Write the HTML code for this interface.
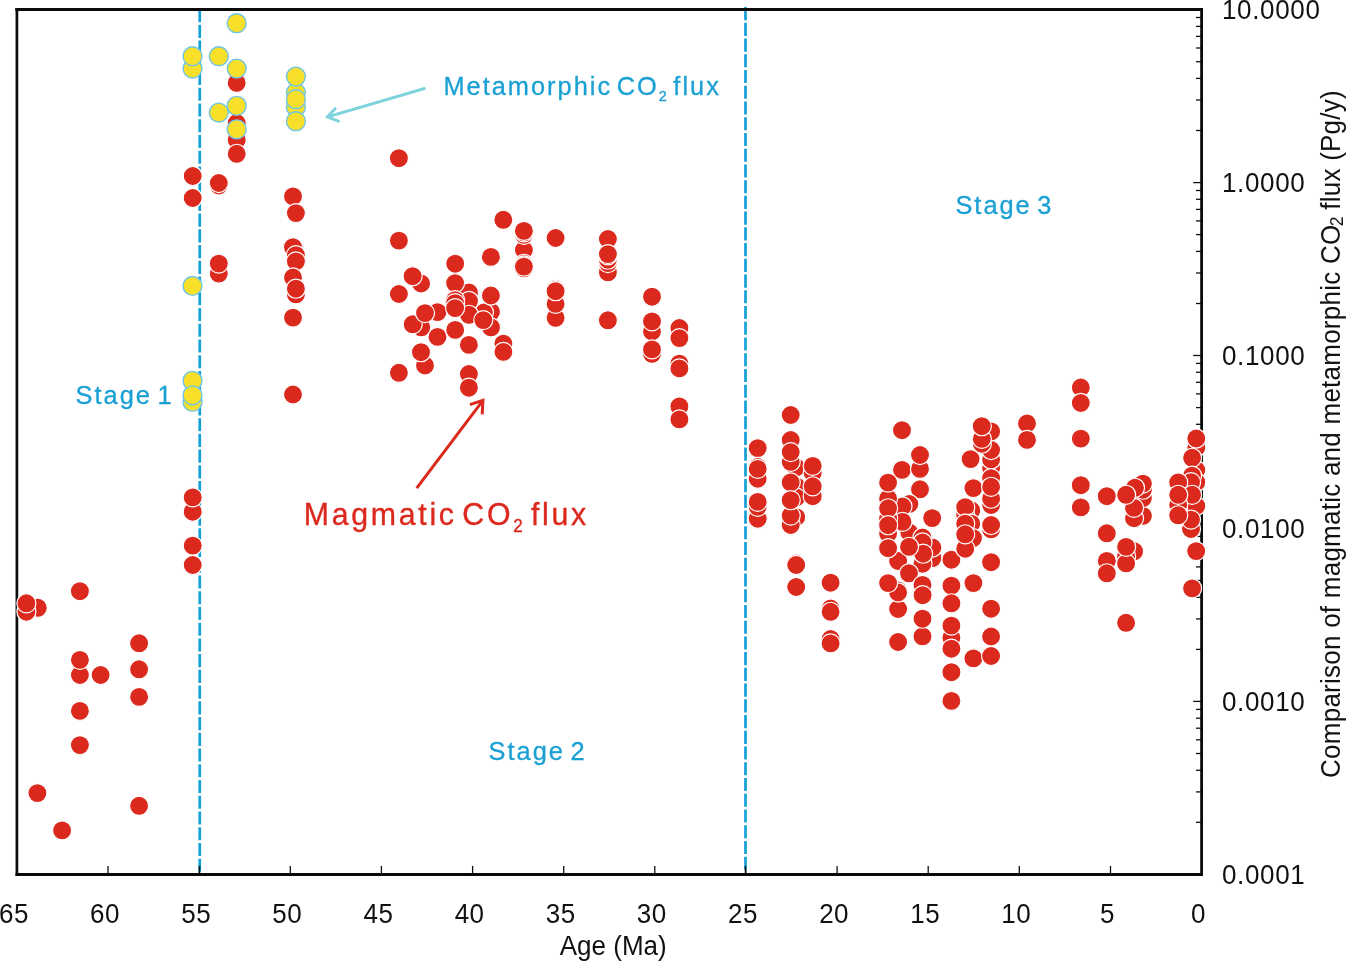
<!DOCTYPE html>
<html lang="en"><head><meta charset="utf-8"><title>CO2 flux</title>
<style>
html,body{margin:0;padding:0;background:#fff;}
body{width:1346px;height:961px;overflow:hidden;}
svg{display:block;}
text{font-family:"Liberation Sans",sans-serif;}
</style></head><body>
<svg width="1346" height="961" viewBox="0 0 1346 961">
<rect x="0" y="0" width="1346" height="961" fill="#fff"/>
<g style="will-change:opacity">
<g stroke="#111" stroke-width="1.3" fill="none">
<line x1="1110.5" y1="865.9" x2="1110.5" y2="874.4"/>
<line x1="1019.3" y1="865.9" x2="1019.3" y2="874.4"/>
<line x1="928.2" y1="865.9" x2="928.2" y2="874.4"/>
<line x1="837.1" y1="865.9" x2="837.1" y2="874.4"/>
<line x1="745.9" y1="865.9" x2="745.9" y2="874.4"/>
<line x1="654.8" y1="865.9" x2="654.8" y2="874.4"/>
<line x1="563.7" y1="865.9" x2="563.7" y2="874.4"/>
<line x1="472.6" y1="865.9" x2="472.6" y2="874.4"/>
<line x1="381.4" y1="865.9" x2="381.4" y2="874.4"/>
<line x1="290.3" y1="865.9" x2="290.3" y2="874.4"/>
<line x1="199.2" y1="865.9" x2="199.2" y2="874.4"/>
<line x1="108.0" y1="865.9" x2="108.0" y2="874.4"/>
<line x1="1193.2" y1="9.6" x2="1201.6" y2="9.6"/>
<line x1="1196.0" y1="130.5" x2="1201.6" y2="130.5"/>
<line x1="1196.0" y1="100.0" x2="1201.6" y2="100.0"/>
<line x1="1196.0" y1="78.4" x2="1201.6" y2="78.4"/>
<line x1="1196.0" y1="61.7" x2="1201.6" y2="61.7"/>
<line x1="1196.0" y1="48.0" x2="1201.6" y2="48.0"/>
<line x1="1196.0" y1="36.4" x2="1201.6" y2="36.4"/>
<line x1="1196.0" y1="26.4" x2="1201.6" y2="26.4"/>
<line x1="1196.0" y1="17.5" x2="1201.6" y2="17.5"/>
<line x1="1193.2" y1="182.6" x2="1201.6" y2="182.6"/>
<line x1="1196.0" y1="303.5" x2="1201.6" y2="303.5"/>
<line x1="1196.0" y1="273.0" x2="1201.6" y2="273.0"/>
<line x1="1196.0" y1="251.4" x2="1201.6" y2="251.4"/>
<line x1="1196.0" y1="234.6" x2="1201.6" y2="234.6"/>
<line x1="1196.0" y1="220.9" x2="1201.6" y2="220.9"/>
<line x1="1196.0" y1="209.4" x2="1201.6" y2="209.4"/>
<line x1="1196.0" y1="199.3" x2="1201.6" y2="199.3"/>
<line x1="1196.0" y1="190.5" x2="1201.6" y2="190.5"/>
<line x1="1193.2" y1="355.5" x2="1201.6" y2="355.5"/>
<line x1="1196.0" y1="476.4" x2="1201.6" y2="476.4"/>
<line x1="1196.0" y1="446.0" x2="1201.6" y2="446.0"/>
<line x1="1196.0" y1="424.3" x2="1201.6" y2="424.3"/>
<line x1="1196.0" y1="407.6" x2="1201.6" y2="407.6"/>
<line x1="1196.0" y1="393.9" x2="1201.6" y2="393.9"/>
<line x1="1196.0" y1="382.3" x2="1201.6" y2="382.3"/>
<line x1="1196.0" y1="372.3" x2="1201.6" y2="372.3"/>
<line x1="1196.0" y1="363.4" x2="1201.6" y2="363.4"/>
<line x1="1193.2" y1="528.5" x2="1201.6" y2="528.5"/>
<line x1="1196.0" y1="649.4" x2="1201.6" y2="649.4"/>
<line x1="1196.0" y1="618.9" x2="1201.6" y2="618.9"/>
<line x1="1196.0" y1="597.3" x2="1201.6" y2="597.3"/>
<line x1="1196.0" y1="580.5" x2="1201.6" y2="580.5"/>
<line x1="1196.0" y1="566.9" x2="1201.6" y2="566.9"/>
<line x1="1196.0" y1="555.3" x2="1201.6" y2="555.3"/>
<line x1="1196.0" y1="545.2" x2="1201.6" y2="545.2"/>
<line x1="1196.0" y1="536.4" x2="1201.6" y2="536.4"/>
<line x1="1193.2" y1="701.4" x2="1201.6" y2="701.4"/>
<line x1="1196.0" y1="822.3" x2="1201.6" y2="822.3"/>
<line x1="1196.0" y1="791.9" x2="1201.6" y2="791.9"/>
<line x1="1196.0" y1="770.3" x2="1201.6" y2="770.3"/>
<line x1="1196.0" y1="753.5" x2="1201.6" y2="753.5"/>
<line x1="1196.0" y1="739.8" x2="1201.6" y2="739.8"/>
<line x1="1196.0" y1="728.2" x2="1201.6" y2="728.2"/>
<line x1="1196.0" y1="718.2" x2="1201.6" y2="718.2"/>
<line x1="1196.0" y1="709.4" x2="1201.6" y2="709.4"/>
<line x1="1193.2" y1="874.4" x2="1201.6" y2="874.4"/>
</g>
<g stroke="#0a0a0a" fill="none">
<line x1="15.55" y1="9.5" x2="1203.00" y2="9.5" stroke-width="2.9"/>
<line x1="15.55" y1="874.4" x2="1203.00" y2="874.4" stroke-width="3.0"/>
<line x1="16.9" y1="8.05" x2="16.9" y2="875.9" stroke-width="2.7"/>
<line x1="1201.6" y1="8.05" x2="1201.6" y2="875.9" stroke-width="2.8"/>
</g>
<line x1="199.75" y1="9.07" x2="199.75" y2="872.6" stroke="#14A0D6" stroke-width="2.7" stroke-dasharray="13.1 2.633"/>
<line x1="745.5" y1="7.07" x2="745.5" y2="870.0" stroke="#14A0D6" stroke-width="2.7" stroke-dasharray="13.1 2.633"/>
<line x1="15.55" y1="9.5" x2="1203.00" y2="9.5" stroke="#0a0a0a" stroke-width="2.9"/>
<g stroke="#111" stroke-width="1.3"><line x1="199.6" y1="865.9" x2="199.6" y2="874.4"/><line x1="745.4" y1="865.9" x2="745.4" y2="874.4"/></g>
<g stroke="#7FD3DC" stroke-width="2.9" fill="none" stroke-linecap="butt"><path d="M425.4 88.25 L327.6 116.9"/><path d="M336.0 107.8 L327.4 116.95 L339.5 121.6"/></g>
<g stroke="#DC291E" stroke-width="3.0" fill="none"><path d="M416.7 488.2 L482.6 400.8"/><path d="M469.9 404.7 L482.9 400.4 L482.2 414.3"/></g>
<g fill="#DC291E" stroke="#fff" stroke-width="1.2">
<circle cx="37.8" cy="607.8" r="9.55"/><circle cx="26.4" cy="611.7" r="9.55"/><circle cx="26.4" cy="603.3" r="9.55"/><circle cx="79.9" cy="591.2" r="9.55"/><circle cx="79.9" cy="675.0" r="9.55"/><circle cx="79.9" cy="659.9" r="9.55"/><circle cx="100.6" cy="675.0" r="9.55"/><circle cx="79.9" cy="710.9" r="9.55"/><circle cx="79.9" cy="745.1" r="9.55"/><circle cx="139.1" cy="643.3" r="9.55"/><circle cx="139.1" cy="669.3" r="9.55"/><circle cx="139.1" cy="696.9" r="9.55"/><circle cx="37.4" cy="793.1" r="9.55"/><circle cx="139.1" cy="805.8" r="9.55"/><circle cx="62.1" cy="830.4" r="9.55"/><circle cx="192.7" cy="565.0" r="9.55"/><circle cx="192.7" cy="545.6" r="9.55"/><circle cx="192.7" cy="511.7" r="9.55"/><circle cx="192.7" cy="497.4" r="9.55"/><circle cx="192.7" cy="176.0" r="9.55"/><circle cx="192.7" cy="198.0" r="9.55"/><circle cx="218.8" cy="185.5" r="9.55"/><circle cx="218.8" cy="183.0" r="9.55"/><circle cx="218.8" cy="273.6" r="9.55"/><circle cx="218.8" cy="263.6" r="9.55"/><circle cx="236.7" cy="82.9" r="9.55"/><circle cx="236.7" cy="123.0" r="9.55"/><circle cx="236.7" cy="140.0" r="9.55"/><circle cx="236.7" cy="153.8" r="9.55"/><circle cx="293.0" cy="196.4" r="9.55"/><circle cx="295.9" cy="213.1" r="9.55"/><circle cx="293.0" cy="247.2" r="9.55"/><circle cx="295.9" cy="255.2" r="9.55"/><circle cx="295.9" cy="261.4" r="9.55"/><circle cx="293.0" cy="277.5" r="9.55"/><circle cx="295.9" cy="294.4" r="9.55"/><circle cx="295.9" cy="288.7" r="9.55"/><circle cx="293.0" cy="317.6" r="9.55"/><circle cx="293.0" cy="394.5" r="9.55"/><circle cx="398.9" cy="158.2" r="9.55"/><circle cx="398.9" cy="240.6" r="9.55"/><circle cx="398.9" cy="294.0" r="9.55"/><circle cx="398.9" cy="372.8" r="9.55"/><circle cx="421.1" cy="283.5" r="9.55"/><circle cx="412.6" cy="276.2" r="9.55"/><circle cx="421.2" cy="327.4" r="9.55"/><circle cx="412.7" cy="324.3" r="9.55"/><circle cx="437.5" cy="312.1" r="9.55"/><circle cx="425.0" cy="313.1" r="9.55"/><circle cx="437.5" cy="336.9" r="9.55"/><circle cx="425.0" cy="365.5" r="9.55"/><circle cx="421.0" cy="352.2" r="9.55"/><circle cx="455.2" cy="263.7" r="9.55"/><circle cx="491.0" cy="311.8" r="9.55"/><circle cx="483.9" cy="312.5" r="9.55"/><circle cx="469.0" cy="292.5" r="9.55"/><circle cx="455.1" cy="283.1" r="9.55"/><circle cx="469.0" cy="301.0" r="9.55"/><circle cx="455.1" cy="300.1" r="9.55"/><circle cx="455.1" cy="303.2" r="9.55"/><circle cx="469.0" cy="314.8" r="9.55"/><circle cx="455.1" cy="308.1" r="9.55"/><circle cx="455.2" cy="329.9" r="9.55"/><circle cx="468.9" cy="344.9" r="9.55"/><circle cx="468.9" cy="374.0" r="9.55"/><circle cx="468.9" cy="387.7" r="9.55"/><circle cx="490.9" cy="256.9" r="9.55"/><circle cx="490.9" cy="295.5" r="9.55"/><circle cx="491.0" cy="327.4" r="9.55"/><circle cx="483.3" cy="320.1" r="9.55"/><circle cx="503.3" cy="219.8" r="9.55"/><circle cx="503.4" cy="343.7" r="9.55"/><circle cx="503.4" cy="351.9" r="9.55"/><circle cx="523.9" cy="250.0" r="9.55"/><circle cx="523.9" cy="234.8" r="9.55"/><circle cx="523.9" cy="232.3" r="9.55"/><circle cx="523.9" cy="230.9" r="9.55"/><circle cx="523.9" cy="263.8" r="9.55"/><circle cx="523.9" cy="265.4" r="9.55"/><circle cx="523.9" cy="268.3" r="9.55"/><circle cx="523.9" cy="266.6" r="9.55"/><circle cx="555.6" cy="238.0" r="9.55"/><circle cx="555.6" cy="317.8" r="9.55"/><circle cx="555.6" cy="303.9" r="9.55"/><circle cx="555.6" cy="288.7" r="9.55"/><circle cx="555.6" cy="290.0" r="9.55"/><circle cx="555.6" cy="291.2" r="9.55"/><circle cx="607.9" cy="239.0" r="9.55"/><circle cx="607.9" cy="272.3" r="9.55"/><circle cx="607.9" cy="263.1" r="9.55"/><circle cx="607.9" cy="259.7" r="9.55"/><circle cx="607.9" cy="255.4" r="9.55"/><circle cx="607.9" cy="254.1" r="9.55"/><circle cx="607.9" cy="320.3" r="9.55"/><circle cx="652.0" cy="296.7" r="9.55"/><circle cx="652.0" cy="331.5" r="9.55"/><circle cx="652.0" cy="321.4" r="9.55"/><circle cx="652.0" cy="353.8" r="9.55"/><circle cx="652.0" cy="349.4" r="9.55"/><circle cx="679.4" cy="328.0" r="9.55"/><circle cx="679.4" cy="338.1" r="9.55"/><circle cx="679.4" cy="363.6" r="9.55"/><circle cx="679.4" cy="368.4" r="9.55"/><circle cx="679.4" cy="406.4" r="9.55"/><circle cx="679.4" cy="419.4" r="9.55"/><circle cx="757.7" cy="448.1" r="9.55"/><circle cx="757.7" cy="478.7" r="9.55"/><circle cx="757.7" cy="467.0" r="9.55"/><circle cx="757.7" cy="468.9" r="9.55"/><circle cx="757.7" cy="518.7" r="9.55"/><circle cx="757.7" cy="506.8" r="9.55"/><circle cx="757.7" cy="501.9" r="9.55"/><circle cx="790.7" cy="415.0" r="9.55"/><circle cx="790.7" cy="440.0" r="9.55"/><circle cx="796.2" cy="467.4" r="9.55"/><circle cx="790.7" cy="461.8" r="9.55"/><circle cx="790.7" cy="452.1" r="9.55"/><circle cx="796.2" cy="486.2" r="9.55"/><circle cx="796.2" cy="497.4" r="9.55"/><circle cx="796.2" cy="517.2" r="9.55"/><circle cx="790.7" cy="525.0" r="9.55"/><circle cx="790.7" cy="515.6" r="9.55"/><circle cx="790.7" cy="482.4" r="9.55"/><circle cx="790.7" cy="500.2" r="9.55"/><circle cx="812.7" cy="473.1" r="9.55"/><circle cx="812.7" cy="465.9" r="9.55"/><circle cx="812.7" cy="496.2" r="9.55"/><circle cx="812.7" cy="486.3" r="9.55"/><circle cx="796.2" cy="563.5" r="9.55"/><circle cx="796.2" cy="565.0" r="9.55"/><circle cx="796.2" cy="587.0" r="9.55"/><circle cx="830.6" cy="582.7" r="9.55"/><circle cx="830.6" cy="608.5" r="9.55"/><circle cx="830.6" cy="611.8" r="9.55"/><circle cx="830.6" cy="639.0" r="9.55"/><circle cx="830.6" cy="643.4" r="9.55"/><circle cx="902.0" cy="430.2" r="9.55"/><circle cx="902.0" cy="469.9" r="9.55"/><circle cx="920.0" cy="468.9" r="9.55"/><circle cx="920.0" cy="455.0" r="9.55"/><circle cx="920.0" cy="489.3" r="9.55"/><circle cx="932.2" cy="518.1" r="9.55"/><circle cx="909.3" cy="504.0" r="9.55"/><circle cx="902.5" cy="506.5" r="9.55"/><circle cx="909.3" cy="532.5" r="9.55"/><circle cx="902.5" cy="521.9" r="9.55"/><circle cx="932.4" cy="558.1" r="9.55"/><circle cx="932.4" cy="547.5" r="9.55"/><circle cx="922.5" cy="563.7" r="9.55"/><circle cx="922.5" cy="537.5" r="9.55"/><circle cx="922.5" cy="542.5" r="9.55"/><circle cx="923.1" cy="553.7" r="9.55"/><circle cx="898.1" cy="561.0" r="9.55"/><circle cx="909.0" cy="546.8" r="9.55"/><circle cx="909.0" cy="573.3" r="9.55"/><circle cx="898.1" cy="609.0" r="9.55"/><circle cx="898.1" cy="590.5" r="9.55"/><circle cx="898.1" cy="592.5" r="9.55"/><circle cx="898.1" cy="642.0" r="9.55"/><circle cx="922.5" cy="584.9" r="9.55"/><circle cx="922.6" cy="595.2" r="9.55"/><circle cx="922.5" cy="636.4" r="9.55"/><circle cx="922.5" cy="618.7" r="9.55"/><circle cx="888.1" cy="498.5" r="9.55"/><circle cx="888.1" cy="518.7" r="9.55"/><circle cx="888.1" cy="533.5" r="9.55"/><circle cx="888.1" cy="482.6" r="9.55"/><circle cx="888.1" cy="508.3" r="9.55"/><circle cx="888.1" cy="525.2" r="9.55"/><circle cx="888.1" cy="548.2" r="9.55"/><circle cx="888.1" cy="583.1" r="9.55"/><circle cx="951.4" cy="559.7" r="9.55"/><circle cx="951.4" cy="585.6" r="9.55"/><circle cx="951.4" cy="603.3" r="9.55"/><circle cx="951.4" cy="637.7" r="9.55"/><circle cx="951.4" cy="625.6" r="9.55"/><circle cx="951.4" cy="648.7" r="9.55"/><circle cx="951.4" cy="672.2" r="9.55"/><circle cx="951.4" cy="700.9" r="9.55"/><circle cx="971.2" cy="510.3" r="9.55"/><circle cx="965.2" cy="515.0" r="9.55"/><circle cx="965.2" cy="507.2" r="9.55"/><circle cx="971.2" cy="523.7" r="9.55"/><circle cx="965.2" cy="523.7" r="9.55"/><circle cx="973.0" cy="538.1" r="9.55"/><circle cx="965.2" cy="548.7" r="9.55"/><circle cx="965.2" cy="534.3" r="9.55"/><circle cx="970.6" cy="459.1" r="9.55"/><circle cx="973.4" cy="488.1" r="9.55"/><circle cx="973.4" cy="583.1" r="9.55"/><circle cx="973.4" cy="658.4" r="9.55"/><circle cx="991.1" cy="431.4" r="9.55"/><circle cx="991.1" cy="467.9" r="9.55"/><circle cx="991.1" cy="459.5" r="9.55"/><circle cx="991.1" cy="450.0" r="9.55"/><circle cx="991.1" cy="478.1" r="9.55"/><circle cx="991.1" cy="505.0" r="9.55"/><circle cx="991.1" cy="498.7" r="9.55"/><circle cx="991.1" cy="486.8" r="9.55"/><circle cx="991.1" cy="529.3" r="9.55"/><circle cx="991.1" cy="525.0" r="9.55"/><circle cx="991.1" cy="562.2" r="9.55"/><circle cx="991.1" cy="608.7" r="9.55"/><circle cx="991.1" cy="636.5" r="9.55"/><circle cx="991.1" cy="656.0" r="9.55"/><circle cx="981.8" cy="443.7" r="9.55"/><circle cx="981.8" cy="438.9" r="9.55"/><circle cx="981.8" cy="426.2" r="9.55"/><circle cx="1027.0" cy="423.5" r="9.55"/><circle cx="1027.0" cy="439.9" r="9.55"/><circle cx="1080.8" cy="387.5" r="9.55"/><circle cx="1080.8" cy="403.0" r="9.55"/><circle cx="1080.8" cy="438.6" r="9.55"/><circle cx="1080.8" cy="485.2" r="9.55"/><circle cx="1080.8" cy="507.4" r="9.55"/><circle cx="1106.8" cy="496.2" r="9.55"/><circle cx="1106.8" cy="533.3" r="9.55"/><circle cx="1106.8" cy="560.9" r="9.55"/><circle cx="1106.8" cy="573.3" r="9.55"/><circle cx="1142.9" cy="515.9" r="9.55"/><circle cx="1134.0" cy="518.2" r="9.55"/><circle cx="1142.9" cy="498.1" r="9.55"/><circle cx="1134.0" cy="507.9" r="9.55"/><circle cx="1142.9" cy="489.7" r="9.55"/><circle cx="1142.9" cy="483.6" r="9.55"/><circle cx="1135.0" cy="487.8" r="9.55"/><circle cx="1126.1" cy="494.8" r="9.55"/><circle cx="1134.1" cy="551.3" r="9.55"/><circle cx="1126.1" cy="556.3" r="9.55"/><circle cx="1126.1" cy="563.4" r="9.55"/><circle cx="1126.1" cy="546.9" r="9.55"/><circle cx="1126.1" cy="622.8" r="9.55"/><circle cx="1196.3" cy="447.5" r="9.55"/><circle cx="1196.3" cy="438.5" r="9.55"/><circle cx="1196.3" cy="470.0" r="9.55"/><circle cx="1192.1" cy="457.8" r="9.55"/><circle cx="1196.3" cy="482.2" r="9.55"/><circle cx="1192.1" cy="475.6" r="9.55"/><circle cx="1191.0" cy="482.2" r="9.55"/><circle cx="1178.2" cy="482.4" r="9.55"/><circle cx="1196.3" cy="506.0" r="9.55"/><circle cx="1192.1" cy="494.8" r="9.55"/><circle cx="1178.2" cy="504.7" r="9.55"/><circle cx="1178.2" cy="494.8" r="9.55"/><circle cx="1191.0" cy="529.0" r="9.55"/><circle cx="1191.0" cy="519.6" r="9.55"/><circle cx="1178.2" cy="515.3" r="9.55"/><circle cx="1196.2" cy="551.1" r="9.55"/><circle cx="1192.1" cy="588.4" r="9.55"/>
</g>
<g fill="#F8DF2A" stroke="#6EC6E6" stroke-width="1.4">
<circle cx="192.5" cy="68.6" r="9.45"/><circle cx="192.5" cy="56.2" r="9.45"/><circle cx="218.8" cy="56.2" r="9.45"/><circle cx="236.7" cy="23.2" r="9.45"/><circle cx="236.7" cy="68.6" r="9.45"/><circle cx="218.8" cy="112.6" r="9.45"/><circle cx="236.7" cy="105.8" r="9.45"/><circle cx="236.7" cy="129.3" r="9.45"/><circle cx="295.9" cy="92.6" r="9.45"/><circle cx="295.9" cy="107.0" r="9.45"/><circle cx="295.9" cy="76.6" r="9.45"/><circle cx="295.9" cy="99.2" r="9.45"/><circle cx="295.9" cy="121.2" r="9.45"/><circle cx="192.5" cy="285.9" r="9.45"/><circle cx="192.5" cy="401.7" r="9.45"/><circle cx="192.5" cy="380.8" r="9.45"/><circle cx="192.5" cy="395.3" r="9.45"/>
</g>
<g font-size="26px" fill="#111" letter-spacing="0.5">
<text transform="translate(1198.6 922.8) scale(1 1.06)" text-anchor="middle">0</text>
<text transform="translate(1107.5 922.8) scale(1 1.06)" text-anchor="middle">5</text>
<text transform="translate(1016.3 922.8) scale(1 1.06)" text-anchor="middle">10</text>
<text transform="translate(925.2 922.8) scale(1 1.06)" text-anchor="middle">15</text>
<text transform="translate(834.1 922.8) scale(1 1.06)" text-anchor="middle">20</text>
<text transform="translate(742.9 922.8) scale(1 1.06)" text-anchor="middle">25</text>
<text transform="translate(651.8 922.8) scale(1 1.06)" text-anchor="middle">30</text>
<text transform="translate(560.7 922.8) scale(1 1.06)" text-anchor="middle">35</text>
<text transform="translate(469.6 922.8) scale(1 1.06)" text-anchor="middle">40</text>
<text transform="translate(378.4 922.8) scale(1 1.06)" text-anchor="middle">45</text>
<text transform="translate(287.3 922.8) scale(1 1.06)" text-anchor="middle">50</text>
<text transform="translate(196.2 922.8) scale(1 1.06)" text-anchor="middle">55</text>
<text transform="translate(105.0 922.8) scale(1 1.06)" text-anchor="middle">60</text>
<text transform="translate(13.9 922.8) scale(1 1.06)" text-anchor="middle">65</text>
<text transform="translate(1221.9 19.1) scale(1 1.06)" letter-spacing="0.68">10.0000</text>
<text transform="translate(1221.9 192.1) scale(1 1.06)" letter-spacing="0.68">1.0000</text>
<text transform="translate(1221.9 365.0) scale(1 1.06)" letter-spacing="0.68">0.1000</text>
<text transform="translate(1221.9 538.0) scale(1 1.06)" letter-spacing="0.68">0.0100</text>
<text transform="translate(1221.9 710.9) scale(1 1.06)" letter-spacing="0.68">0.0010</text>
<text transform="translate(1221.9 883.9) scale(1 1.06)" letter-spacing="0.68">0.0001</text>
</g>
<g font-size="26px" fill="#111">
<text transform="translate(613.2 954.6) scale(1 1.06)" text-anchor="middle">Age (Ma)</text>
<text transform="translate(1340.4 434) rotate(-90) scale(1 1.06)" text-anchor="middle" letter-spacing="0.25">Comparison of magmatic and metamorphic CO<tspan font-size="17.5px" dy="2.2" dx="-1.6" letter-spacing="-0.8">2</tspan><tspan dy="-2.2"> flux (Pg/y)</tspan></text>
</g>
<g font-size="25.4px" fill="#1BA0D4" stroke="#1BA0D4" stroke-width="0.3" letter-spacing="2.0" word-spacing="-3.6">
<text transform="translate(75.6 404.1) scale(1 1.035)">Stage 1</text>
<text transform="translate(488.6 759.8) scale(1 1.035)">Stage 2</text>
<text transform="translate(955.4 214.4) scale(1 1.035)">Stage 3</text>
<text transform="translate(443.4 94.9) scale(1 1.035)" word-spacing="-4.5">Metamorphic CO<tspan font-size="14.5px" dy="5.5">2</tspan><tspan dy="-5.5"> flux</tspan></text>
</g>
<g font-size="30.3px" fill="#DC291E" stroke="#DC291E" stroke-width="0.35" letter-spacing="2.7" word-spacing="-5.5">
<text transform="translate(303.8 524.6) scale(1 1.035)">Magmatic CO<tspan font-size="17px" dy="7">2</tspan><tspan dy="-7"> flux</tspan></text>
</g>
</g>
</svg>
</body></html>
